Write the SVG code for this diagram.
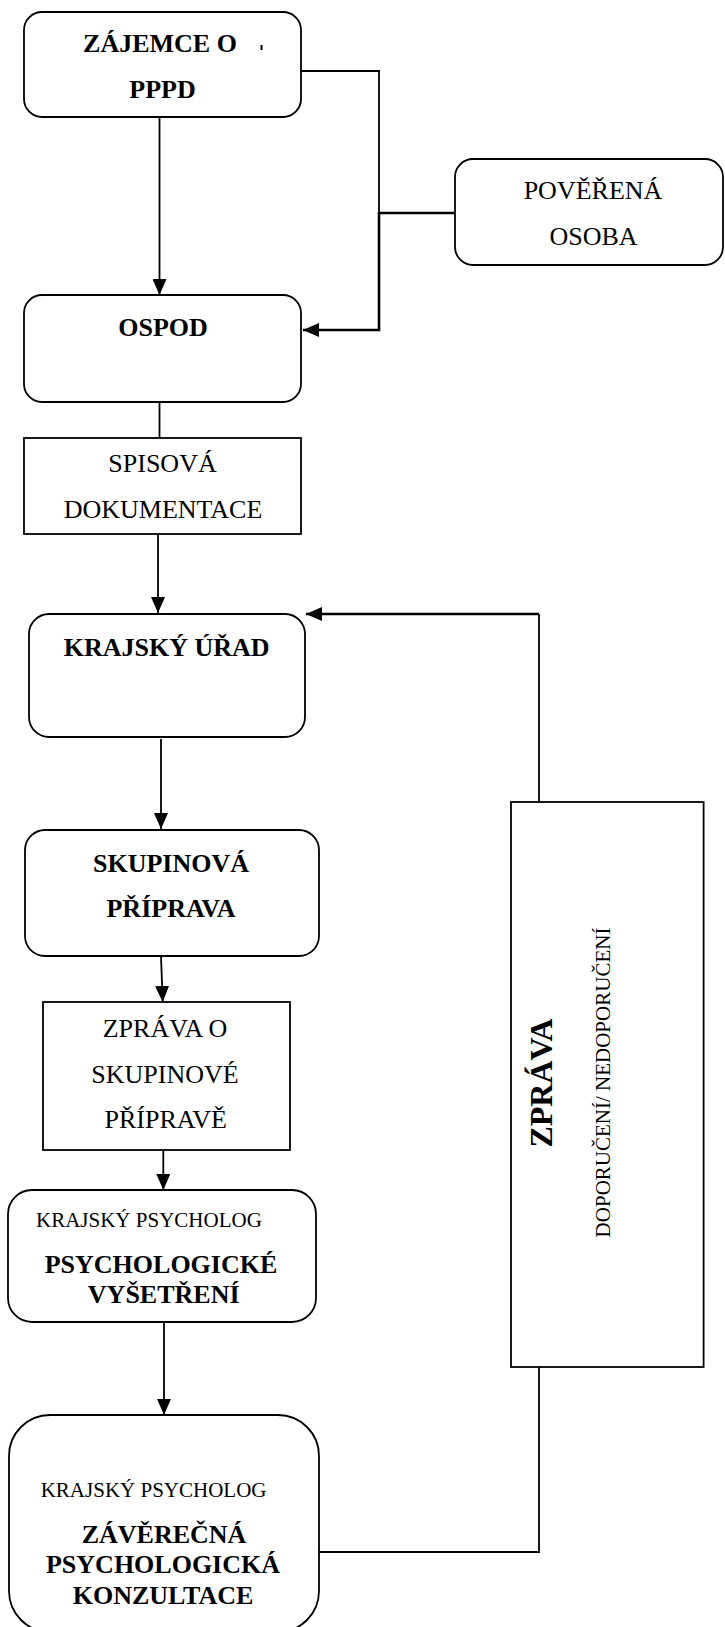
<svg xmlns="http://www.w3.org/2000/svg" width="725" height="1627" viewBox="0 0 725 1627">
<style>
.box{fill:#fff;stroke:#000;stroke-width:1.8}
.b{font-family:"Liberation Serif","Times New Roman",serif;font-weight:bold;font-size:26px;fill:#000;text-anchor:middle}
.r{font-family:"Liberation Serif","Times New Roman",serif;font-size:26px;fill:#000;text-anchor:middle}
.s{font-family:"Liberation Serif","Times New Roman",serif;font-size:21px;fill:#000}
.ln{fill:none;stroke:#000;stroke-width:1.8}
.th{fill:none;stroke:#000;stroke-width:2.6}
</style>
<defs>
<marker id="ah" markerUnits="userSpaceOnUse" viewBox="0 0 16 14" refX="16" refY="7" markerWidth="16" markerHeight="14" orient="auto">
<path d="M0,0 L16,7 L0,14 z" fill="#000"/>
</marker>
</defs>
<rect width="725" height="1627" fill="#fff"/>
<g id="connectors">
<polyline class="ln" points="301,71 379,71 379,213"/>
<polyline class="th" points="379,212 379,330 303,330" marker-end="url(#ah)"/>
<line class="th" x1="379" y1="213" x2="455" y2="213"/>
<line class="ln" x1="159.5" y1="117" x2="159.5" y2="295" marker-end="url(#ah)"/>
<line class="ln" x1="159.5" y1="402" x2="159.5" y2="438"/>
<line class="ln" x1="158" y1="534" x2="158" y2="613" marker-end="url(#ah)"/>
<line class="ln" x1="161" y1="739" x2="161" y2="829" marker-end="url(#ah)"/>
<line class="ln" x1="161" y1="956" x2="162.7" y2="1002" marker-end="url(#ah)"/>
<line class="ln" x1="163.3" y1="1140" x2="163.3" y2="1190" marker-end="url(#ah)"/>
<line class="ln" x1="164" y1="1322" x2="164" y2="1415" marker-end="url(#ah)"/>
<line class="ln" x1="539" y1="802" x2="539" y2="614"/>
<line class="th" x1="539" y1="614" x2="306" y2="614" marker-end="url(#ah)"/>
<polyline class="ln" points="539,1367 539,1552 319,1552"/>
</g>
<g id="zajemce">
<rect class="box" x="24" y="12" width="277" height="105" rx="18"/>
<text class="b" x="160" y="52">ZÁJEMCE O</text>
<line x1="261.5" y1="45" x2="261.5" y2="50" stroke="#000" stroke-width="2"/>
<text class="b" x="162.5" y="98">PPPD</text>
</g>
<g id="poverena">
<rect class="box" x="455" y="159" width="268" height="106" rx="18"/>
<text class="r" x="593" y="199">POVĚŘENÁ</text>
<text class="r" x="593.5" y="245">OSOBA</text>
</g>
<g id="ospod">
<rect class="box" x="24" y="295" width="277" height="107" rx="18"/>
<text class="b" x="163" y="336">OSPOD</text>
</g>
<g id="spisova">
<rect class="box" x="24" y="438" width="277" height="96"/>
<text class="r" x="162.5" y="472">SPISOVÁ</text>
<text class="r" x="163" y="518">DOKUMENTACE</text>
</g>
<g id="krajsky-urad">
<rect class="box" x="29" y="614" width="276" height="123" rx="20"/>
<text class="b" x="166.7" y="656">KRAJSKÝ ÚŘAD</text>
</g>
<g id="skupinova">
<rect class="box" x="25" y="830" width="294" height="126" rx="20"/>
<text class="b" x="171" y="872">SKUPINOVÁ</text>
<text class="b" x="171" y="917">PŘÍPRAVA</text>
</g>
<g id="zprava-o">
<rect class="box" x="43" y="1002" width="247" height="148"/>
<text class="r" x="165" y="1037">ZPRÁVA O</text>
<text class="r" x="165" y="1083">SKUPINOVÉ</text>
<text class="r" x="165.7" y="1128">PŘÍPRAVĚ</text>
</g>
<g id="psych-vysetreni">
<rect class="box" x="8" y="1190" width="308" height="132" rx="24"/>
<text class="s" x="36" y="1227">KRAJSKÝ PSYCHOLOG</text>
<text class="b" x="161" y="1273">PSYCHOLOGICKÉ</text>
<text class="b" x="163.7" y="1303">VYŠETŘENÍ</text>
</g>
<g id="zaverecna">
<rect class="box" x="9" y="1415" width="310" height="217" rx="41"/>
<text class="s" x="40.7" y="1497">KRAJSKÝ PSYCHOLOG</text>
<text class="b" x="164" y="1543">ZÁVĚREČNÁ</text>
<text class="b" x="163" y="1573">PSYCHOLOGICKÁ</text>
<text class="b" x="163" y="1604">KONZULTACE</text>
</g>
<g id="zprava">
<rect class="box" x="511" y="802" width="192.6" height="565"/>
<text class="b" style="font-size:32px" transform="translate(552,1083) rotate(-90)">ZPRÁVA</text>
<text class="s" style="text-anchor:middle" transform="translate(610,1082.5) rotate(-90)">DOPORUČENÍ/ NEDOPORUČENÍ</text>
</g>
</svg>
